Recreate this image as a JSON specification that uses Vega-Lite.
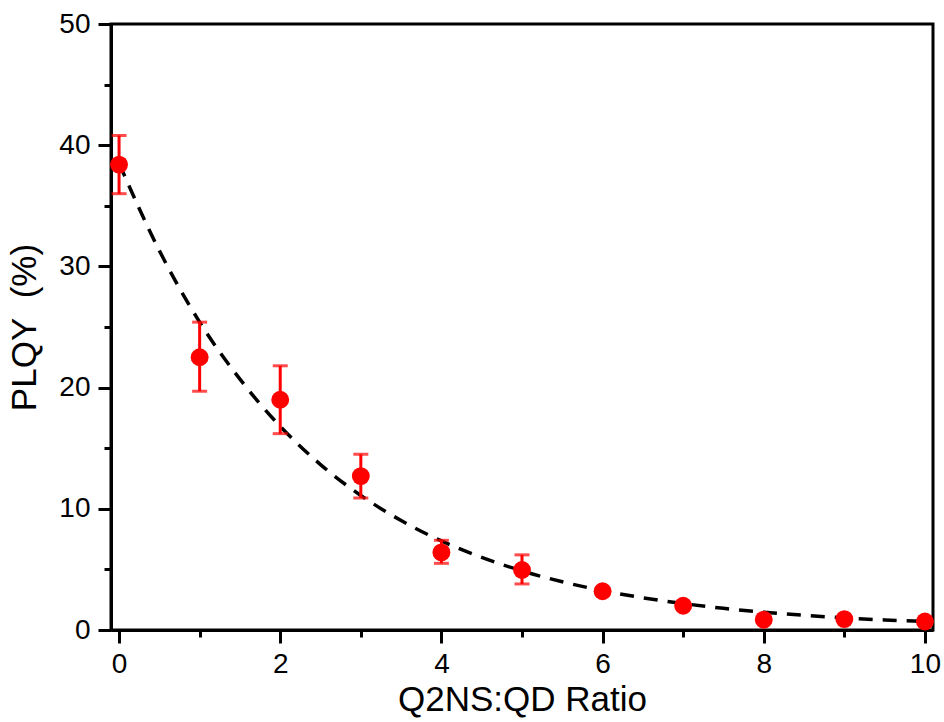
{
  "$schema": "https://vega.github.io/schema/vega-lite/v6.json",
  "autosize": "none",
  "width": 822,
  "height": 606,
  "padding": {"left": 111, "top": 24, "right": 11, "bottom": 92},
  "background": "white",
  "config": {
    "view": {"stroke": "black", "strokeWidth": 3},
    "font": "Liberation Sans",
    "axis": {
      "domainColor": "black", "domainWidth": 3, "tickColor": "black", "tickWidth": 3,
      "labelColor": "black", "titleColor": "black", "labelFont": "Liberation Sans", "titleFont": "Liberation Sans",
      "labelFontSize": 28, "titleFontSize": 35, "titleFontWeight": "normal", "grid": false
    }
  },
  "datasets": {
    "pts": [
      {"ratio": 0, "plqy": 38.4, "lo": 36.0, "hi": 40.8},
      {"ratio": 1, "plqy": 22.5, "lo": 19.7, "hi": 25.4},
      {"ratio": 2, "plqy": 19.0, "lo": 16.2, "hi": 21.8},
      {"ratio": 3, "plqy": 12.7, "lo": 10.9, "hi": 14.5},
      {"ratio": 4, "plqy": 6.4, "lo": 5.5, "hi": 7.4},
      {"ratio": 5, "plqy": 4.95, "lo": 3.8, "hi": 6.2},
      {"ratio": 6, "plqy": 3.2, "lo": 2.9, "hi": 3.5},
      {"ratio": 7, "plqy": 2.0, "lo": 1.8, "hi": 2.2},
      {"ratio": 8, "plqy": 0.85, "lo": 0.7, "hi": 1.0},
      {"ratio": 9, "plqy": 0.9, "lo": 0.75, "hi": 1.05},
      {"ratio": 10, "plqy": 0.7, "lo": 0.55, "hi": 0.85}
    ],
    "fit": [
      {"ratio": 0, "plqy": 38.5}, {"ratio": 0.5, "plqy": 31.3}, {"ratio": 1, "plqy": 25.4},
      {"ratio": 1.5, "plqy": 20.7}, {"ratio": 2, "plqy": 16.8}, {"ratio": 2.5, "plqy": 13.65},
      {"ratio": 3, "plqy": 11.1}, {"ratio": 3.5, "plqy": 9.03}, {"ratio": 4, "plqy": 7.35},
      {"ratio": 4.5, "plqy": 5.99}, {"ratio": 5, "plqy": 4.88}, {"ratio": 5.5, "plqy": 3.98},
      {"ratio": 6, "plqy": 3.25}, {"ratio": 6.5, "plqy": 2.66}, {"ratio": 7, "plqy": 2.18},
      {"ratio": 7.5, "plqy": 1.79}, {"ratio": 8, "plqy": 1.47}, {"ratio": 8.5, "plqy": 1.21},
      {"ratio": 9, "plqy": 1.0}, {"ratio": 9.5, "plqy": 0.83}, {"ratio": 10, "plqy": 0.7}
    ]
  },
  "encoding": {
    "x": {
      "field": "ratio", "type": "quantitative",
      "scale": {"domain": [-0.1, 10.1], "nice": false, "zero": false},
      "axis": {
        "title": "Q2NS:QD Ratio", "values": [0,1,2,3,4,5,6,7,8,9,10],
        "labelExpr": "datum.value % 2 === 0 ? datum.label : ''",
        "tickSize": {"condition": {"test": "datum.value % 2 === 0", "value": 13}, "value": 7},
        "labelPadding": 7, "titlePadding": 4, "labelFlush": false
      }
    },
    "y": {
      "field": "plqy", "type": "quantitative",
      "scale": {"domain": [0, 50], "nice": false},
      "axis": {
        "title": "PLQY\u00a0\u00a0(%)", "values": [0,5,10,15,20,25,30,35,40,45,50],
        "labelExpr": "datum.value % 10 === 0 ? datum.label : ''",
        "tickSize": {"condition": {"test": "datum.value % 10 === 0", "value": 13}, "value": 7},
        "labelPadding": 8, "titlePadding": 16, "labelFlush": false
      }
    }
  },
  "layer": [
    {
      "data": {"name": "fit"},
      "mark": {"type": "line", "color": "black", "strokeWidth": 3.5, "strokeDash": [14, 10], "interpolate": "monotone", "clip": true},
      "encoding": {}
    },
    {
      "data": {"name": "pts"},
      "mark": {"type": "rule", "color": "red", "strokeWidth": 3},
      "encoding": {"y": {"field": "lo", "type": "quantitative"}, "y2": {"field": "hi"}}
    },
    {
      "data": {"name": "pts"},
      "mark": {"type": "tick", "color": "red", "orient": "horizontal", "size": 15, "thickness": 3},
      "encoding": {"y": {"field": "lo", "type": "quantitative"}}
    },
    {
      "data": {"name": "pts"},
      "mark": {"type": "tick", "color": "red", "orient": "horizontal", "size": 15, "thickness": 3},
      "encoding": {"y": {"field": "hi", "type": "quantitative"}}
    },
    {
      "data": {"name": "pts"},
      "mark": {"type": "point", "shape": "circle", "filled": true, "color": "red", "opacity": 1, "size": 320},
      "encoding": {}
    }
  ]
}
